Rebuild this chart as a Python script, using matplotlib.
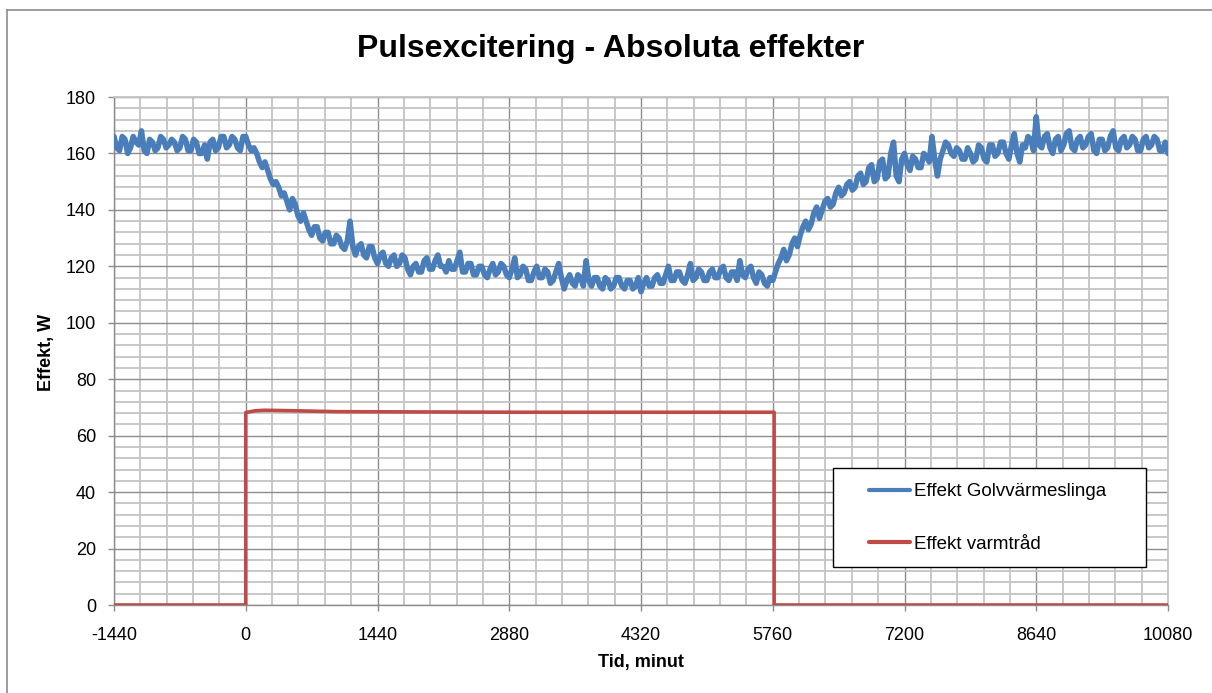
import matplotlib
matplotlib.use("Agg")
import matplotlib.pyplot as plt
from matplotlib.lines import Line2D
from matplotlib.patches import Rectangle
from matplotlib.ticker import MultipleLocator

plt.rcParams['font.family'] = ['Liberation Sans', 'DejaVu Sans']
plt.rcParams['axes.unicode_minus'] = False

# ---------------- data ----------------
title = "Pulsexcitering - Absoluta effekter"
x_label = "Tid, minut"
y_label = "Effekt, W"
series_names = ["Effekt Golvvärmeslinga", "Effekt varmtråd"]

# Blue series sampled every 30 minutes, -1440 .. 10080
blue_t_start = -1440
blue_t_step = 30
blue_values = [
    # day -1
    166, 162, 161, 166, 165, 160, 162, 166, 164, 163, 168, 161, 160, 165, 164, 161,
    162, 166, 165, 162, 163, 165, 164, 161, 162, 166, 165, 161, 161, 165, 164, 160,
    160, 163, 158, 164, 165, 161, 162, 166, 166, 162, 163, 166, 165, 162, 161, 166,
    # day 0
    166, 163, 161, 162, 160, 157, 155, 157, 154, 151, 149, 150, 148, 145, 146, 143,
    140, 144, 142, 138, 136, 139, 136, 133, 131, 134, 134, 130, 129, 132, 132, 128,
    128, 131, 130, 127, 126, 129, 136, 127, 124, 127, 128, 124, 123, 127, 127, 123,
    # day 1
    121, 124, 125, 121, 120, 123, 124, 120, 121, 124, 123, 119, 117, 120, 121, 118,
    118, 122, 123, 119, 119, 122, 124, 120, 120, 118, 122, 119, 119, 122, 125, 118,
    118, 121, 121, 117, 117, 120, 120, 117, 116, 119, 121, 117, 118, 121, 120, 117,
    # day 2
    116, 119, 123, 116, 117, 120, 119, 115, 115, 118, 120, 116, 116, 119, 118, 114,
    115, 118, 121, 116, 112, 115, 117, 114, 113, 117, 116, 113, 122, 115, 113, 116,
    116, 113, 112, 116, 115, 112, 113, 116, 116, 113, 112, 115, 115, 112, 113, 116,
    # day 3
    111, 114, 116, 113, 113, 116, 117, 114, 114, 117, 120, 115, 115, 118, 118, 115,
    114, 117, 121, 115, 116, 119, 118, 115, 115, 118, 119, 116, 116, 119, 120, 116,
    115, 118, 118, 115, 122, 117, 116, 119, 120, 116, 114, 118, 117, 114, 113, 116,
    # day 4
    115, 118, 121, 123, 126, 122, 124, 128, 130, 127, 131, 134, 136, 133, 135, 139,
    141, 137, 140, 143, 144, 141, 142, 146, 148, 145, 146, 149, 150, 147, 148, 152,
    153, 149, 150, 155, 156, 150, 151, 157, 158, 151, 152, 160, 164, 152, 150, 158,
    # day 5
    160, 156, 154, 159, 158, 155, 155, 160, 159, 157, 166, 158, 152, 158, 161, 164,
    163, 160, 159, 162, 161, 158, 158, 162, 160, 157, 158, 163, 162, 158, 157, 163,
    163, 159, 160, 164, 164, 160, 158, 163, 167, 160, 157, 163, 162, 166, 165, 161,
    # day 6
    173, 163, 162, 166, 167, 162, 160, 165, 166, 161, 163, 167, 168, 162, 161, 165,
    166, 162, 163, 166, 167, 161, 160, 165, 165, 161, 162, 166, 168, 162, 161, 165,
    166, 162, 163, 166, 165, 161, 161, 165, 166, 162, 163, 166, 165, 161, 161, 164,
    # end
    160,
]
blue_t = [blue_t_start + i * blue_t_step for i in range(len(blue_values))]

red_t = [-1440, 0, 0, 100, 200, 400, 700, 1000, 2000, 3000, 4000, 5000, 5775, 5775, 10080]
red_values = [0, 0, 68.2, 68.8, 69.0, 68.9, 68.7, 68.5, 68.4, 68.3, 68.3, 68.3, 68.3, 0, 0]

x_ticks = [-1440, 0, 1440, 2880, 4320, 5760, 7200, 8640, 10080]
y_ticks = [0, 20, 40, 60, 80, 100, 120, 140, 160, 180]

# ---------------- figure ----------------
W, H = 1212, 693
fig = plt.figure(figsize=(W / 100, H / 100), dpi=100)

def fx(px):
    return px / W

def fy(py):
    return 1 - py / H

ax_left, ax_right, ax_top, ax_bottom = 114, 1168, 97, 605
ax = fig.add_axes([fx(ax_left), fy(ax_bottom), (ax_right - ax_left) / W, (ax_bottom - ax_top) / H])

blue = '#4a7ebb'
red = '#be4b48'

ax.plot(blue_t, blue_values, color=blue, lw=4.0, solid_joinstyle='round',
        solid_capstyle='round', label=series_names[0], zorder=3)
ax.plot(red_t, red_values, color=red, lw=2.6, solid_joinstyle='round',
        solid_capstyle='butt', label=series_names[1], zorder=3)

ax.set_xlim(-1440, 10080)
ax.set_ylim(0, 180)
ax.set_xticks(x_ticks)
ax.set_yticks(y_ticks)
ax.xaxis.set_minor_locator(MultipleLocator(288))
ax.yaxis.set_minor_locator(MultipleLocator(4))

ax.grid(which='minor', color='#c4c4c4', lw=1.3, zorder=0)
ax.grid(which='major', color='#8c8c8c', lw=1.0, zorder=1)
ax.set_axisbelow(True)

ax.tick_params(axis='x', which='major', direction='out', length=4, width=1, color='#8c8c8c',
               labelsize=13, labelcolor='#000000', pad=12)
ax.tick_params(axis='y', which='major', direction='out', length=4, width=1, color='#8c8c8c',
               labelsize=13, labelcolor='#000000', pad=9)
ax.tick_params(which='minor', length=0)

for side in ['left', 'bottom']:
    ax.spines[side].set_color('#8c8c8c')
    ax.spines[side].set_linewidth(1.0)
for side in ['top', 'right']:
    ax.spines[side].set_color('#c4c4c4')
    ax.spines[side].set_linewidth(1.3)

fig.text(fx(611), fy(49), title, ha='center', va='center', fontsize=23,
         fontweight='bold')
fig.text(fx(641), fy(663), x_label, ha='center', va='center', fontsize=13, fontweight='bold')
fig.text(fx(47), fy(352), y_label, ha='center', va='center', fontsize=13, fontweight='bold',
         rotation=90)

# legend box
fig.patches.append(Rectangle((fx(833), fy(567)), (1146 - 833) / W, (567 - 468) / H,
                             transform=fig.transFigure, facecolor='white',
                             edgecolor='black', lw=1.0, zorder=5))
leg = fig.legend(loc='upper left', bbox_to_anchor=(fx(869), fy(483)), frameon=False,
                 fontsize=13.5, handlelength=2.2, handletextpad=0.2, labelspacing=1.9,
                 borderpad=0, borderaxespad=0)
leg.set_zorder(6)
for h in leg.legend_handles:
    h.set_linewidth(3.0)
    h.set_solid_capstyle('round')

# outer chart border (top and left)
fig.add_artist(Line2D([fx(7), fx(7)], [fy(10), 0], transform=fig.transFigure,
                      color='#8c8c8c', lw=1.2))
fig.add_artist(Line2D([fx(7), 1], [fy(10), fy(10)], transform=fig.transFigure,
                      color='#8c8c8c', lw=1.2))

fig.savefig('out.png', dpi=100)
